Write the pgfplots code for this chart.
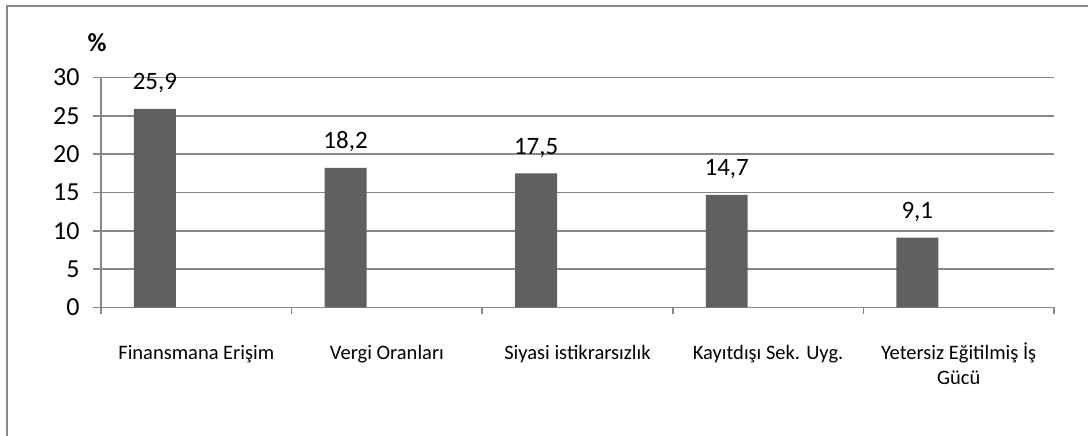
\documentclass[border=0pt]{standalone}
\usepackage{pgfplots}
\pgfplotsset{compat=1.18}
\usepackage{fontspec}
\setmainfont{Carlito}
\definecolor{barc}{HTML}{606060}
\definecolor{axc}{HTML}{878787}
\begin{document}
\begin{tikzpicture}
\path[use as bounding box] (0,0) rectangle (1088pt,436pt);
\draw[axc, line width=2pt] (7pt,0pt) -- (7pt,430pt) -- (1090pt,430pt);
\begin{axis}[
  at={(101pt,128.5pt)}, anchor=south west,
  scale only axis, width=953pt, height=230pt,
  xmin=-0.5, xmax=4.5, ymin=0, ymax=30,
  ytick={0,5,...,30},
  xtick={0,1,2,3,4},
  xticklabels={Finansmana Erişim, Vergi Oranları, Siyasi istikrarsızlık, Kayıtdışı Sek. Uyg., {\begin{tabular}[t]{@{}c@{}}Yetersiz Eğitilmiş İş\\Gücü\end{tabular}}},
  xticklabel style={font=\fontsize{20.5}{25}\selectfont, anchor=base, inner sep=0pt, yshift=-44.5pt},
  minor xtick={-0.5,0.5,1.5,2.5,3.5,4.5},
  major x tick style={draw=none},
  minor x tick style={axc, line width=1.5pt},
  tick align=outside,
  minor tick length=7pt,
  major tick length=8pt,
  y tick style={axc, line width=1.5pt},
  yticklabel style={font=\fontsize{26}{30}\selectfont, xshift=-10pt},
  /pgf/number format/assume math mode=true,
  ymajorgrids,
  grid style={axc, line width=1.5pt},
  axis x line*=bottom, axis y line*=left,
  axis line style={axc, line width=1.5pt},
  separate axis lines,
  x axis line style={-}, y axis line style={-},
  ybar, bar width=0.22, bar shift=0,
  nodes near coords,
  every node near coord/.append style={font=\fontsize{25}{30}\selectfont, black, anchor=base, inner sep=0pt, yshift=19pt,
    /pgf/number format/.cd, use comma, fixed, precision=1, fixed zerofill, assume math mode=true},
  clip=false,
]
\addplot[fill=barc, draw=none] coordinates {(-0.217,25.9) (0.783,18.2) (1.783,17.5) (2.783,14.7) (3.783,9.1)};
\end{axis}
\node[font=\bfseries\fontsize{26}{30}\selectfont] at (97pt,393.5pt) {\%};
\end{tikzpicture}
\end{document}
